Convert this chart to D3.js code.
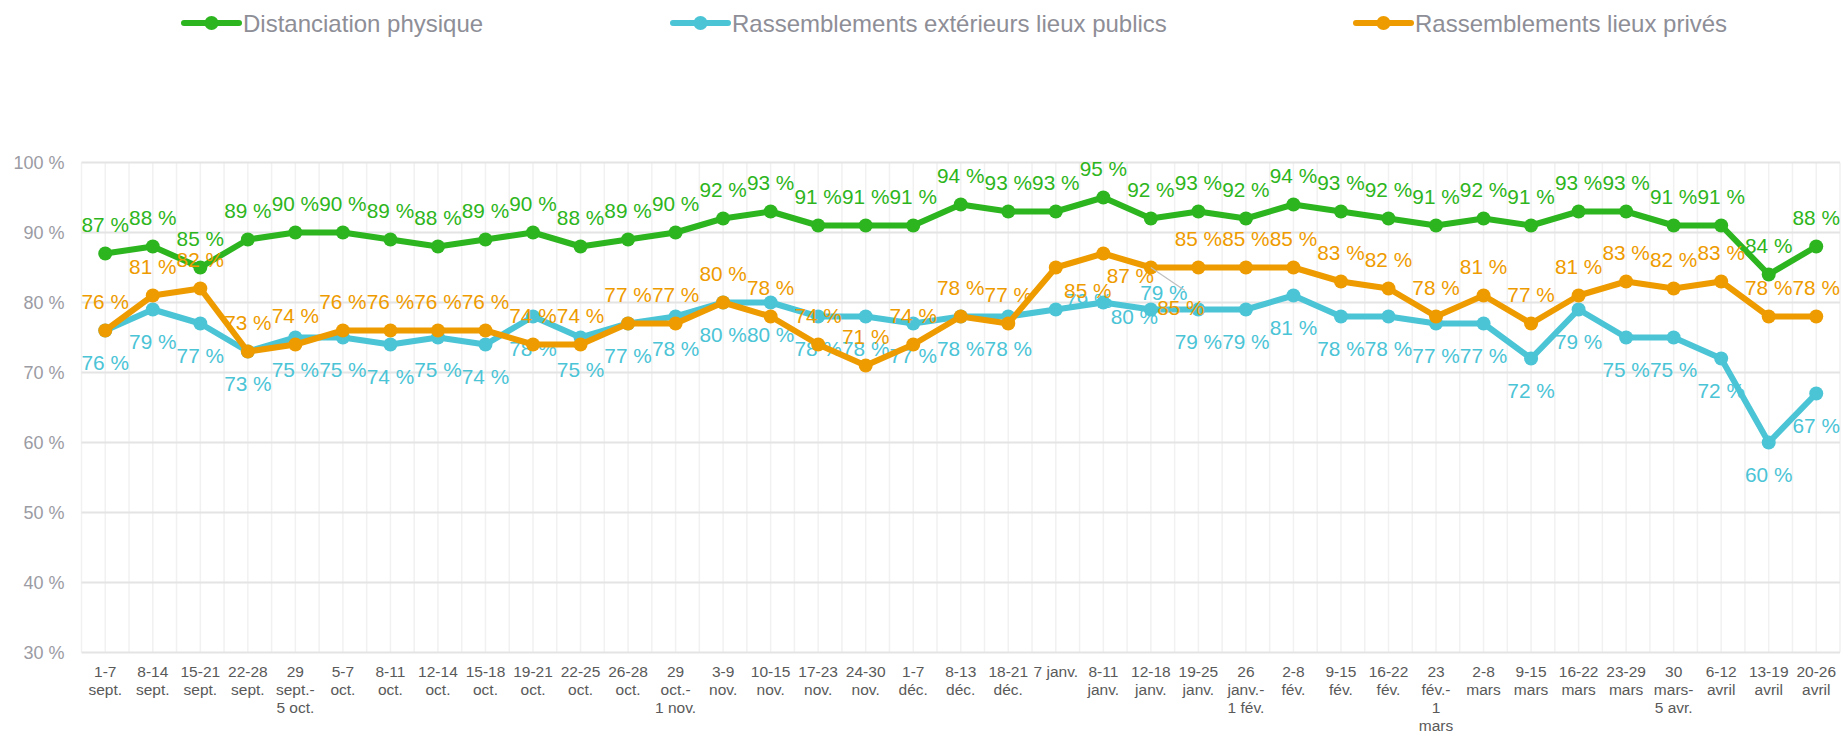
<!DOCTYPE html>
<html>
<head>
<meta charset="utf-8">
<script src="https://cdn.jsdelivr.net/npm/d3@7"></script>
<style>
  body { margin: 0; background: #fff; }
  svg { display: block; font-family: "Liberation Sans", Arial, sans-serif; }
</style>
</head>
<body>
<svg id="chart" width="1844" height="732"></svg>
<script>
// weekly periods (line breaks as they wrap under the axis)
const periods = [
    '1-7\nsept.', '8-14\nsept.', '15-21\nsept.', '22-28\nsept.', '29\nsept.-\n5 oct.',
    '5-7\noct.', '8-11\noct.', '12-14\noct.', '15-18\noct.', '19-21\noct.',
    '22-25\noct.', '26-28\noct.', '29\noct.-\n1 nov.', '3-9\nnov.', '10-15\nnov.',
    '17-23\nnov.', '24-30\nnov.', '1-7\ndéc.', '8-13\ndéc.', '18-21\ndéc.',
    '7 janv.', '8-11\njanv.', '12-18\njanv.', '19-25\njanv.', '26\njanv.-\n1 fév.',
    '2-8\nfév.', '9-15\nfév.', '16-22\nfév.', '23\nfév.-\n1\nmars', '2-8\nmars',
    '9-15\nmars', '16-22\nmars', '23-29\nmars', '30\nmars-\n5 avr.', '6-12\navril',
    '13-19\navril', '20-26\navril'
];

const distanciation = [87, 88, 85, 89, 90, 90, 89, 88, 89, 90, 88, 89, 90, 92, 93, 91, 91, 91, 94, 93,
    93, 95, 92, 93, 92, 94, 93, 92, 91, 92, 91, 93, 93, 91, 91, 84, 88];
const exterieurs = [76, 79, 77, 73, 75, 75, 74, 75, 74, 78, 75, 77, 78, 80, 80, 78, 78, 77, 78, 78,
    79, 80, 79, 79, 79, 81, 78, 78, 77, 77, 72, 79, 75, 75, 72, 60, 67];
const prives = [76, 81, 82, 73, 74, 76, 76, 76, 76, 74, 74, 77, 77, 80, 78, 74, 71, 74, 78, 77,
    85, 87, 85, 85, 85, 85, 83, 82, 78, 81, 77, 81, 83, 82, 83, 78, 78];

const yTicks = [30, 40, 50, 60, 70, 80, 90, 100];

const series = [
    { name: 'Distanciation physique', values: distanciation, color: '#2db520', labelPos: 'above', legendX: 184 },
    { name: 'Rassemblements extérieurs lieux publics', values: exterieurs, color: '#4bc4d6', labelPos: 'below', legendX: 673 },
    { name: 'Rassemblements lieux privés', values: prives, color: '#ee9b00', labelPos: 'above', legendX: 1356 }
];

// labels that were dragged by hand in the original (offsets of the baseline from the point)
const labelMoves = [
    { s: 1, i: 20, dx: 33, dy: -2 },
    { s: 1, i: 21, dx: 31, dy: 21 },
    { s: 1, i: 22, dx: 13, dy: -10 },
    { s: 2, i: 20, dx: 32, dy: 30 },
    { s: 2, i: 21, dx: 27, dy: 29 },
    { s: 2, i: 22, dx: 30, dy: 47, leader: true }
];

const svg = d3.select('#chart');
const plotLeft = 81.5, plotRight = 1840, plotTop = 162.5, plotBottom = 652.5;

const x = d3.scaleBand().domain(d3.range(periods.length)).range([plotLeft, plotRight]).padding(0);
const cx = i => x(i) + x.bandwidth() / 2;
const y = d3.scaleLinear().domain([30, 100]).range([plotBottom, plotTop]);

// vertical grid: band edges and centres
const vGrid = [];
for (let i = 0; i <= periods.length; i++) {
    vGrid.push(plotLeft + i * x.bandwidth());
    if (i < periods.length) vGrid.push(cx(i));
}
svg.append('g')
    .selectAll('line')
    .data(vGrid)
    .join('line')
    .attr('x1', d => d).attr('x2', d => d)
    .attr('y1', plotTop).attr('y2', plotBottom)
    .attr('stroke', '#f1f1f1')
    .attr('stroke-width', 1.5);

svg.append('g')
    .selectAll('line')
    .data(yTicks)
    .join('line')
    .attr('x1', plotLeft).attr('x2', plotRight)
    .attr('y1', d => y(d)).attr('y2', d => y(d))
    .attr('stroke', '#e4e4e4')
    .attr('stroke-width', 2);

// y axis
const yAxis = svg.append('g')
    .attr('transform', `translate(${plotLeft},0)`)
    .call(d3.axisLeft(y).tickValues(yTicks).tickSize(0).tickPadding(17).tickFormat(d => d + ' %'));
yAxis.select('.domain').remove();
yAxis.selectAll('text')
    .attr('fill', '#9b9ba3')
    .style('font-size', '18px')
    .style('font-family', '"Liberation Sans", Arial, sans-serif');

// x axis
const xAxis = svg.append('g')
    .attr('transform', `translate(0,${plotBottom})`)
    .call(d3.axisBottom(x).tickSize(0).tickFormat(''));
xAxis.select('.domain').remove();
xAxis.selectAll('.tick text').remove();
xAxis.selectAll('.tick')
    .append('text')
    .attr('fill', '#595959')
    .attr('text-anchor', 'middle')
    .style('font-size', '15.5px')
    .style('font-family', '"Liberation Sans", Arial, sans-serif')
    .each(function (d) {
        const lines = periods[d].split('\n');
        d3.select(this)
            .selectAll('tspan')
            .data(lines)
            .join('tspan')
            .attr('x', 0)
            .attr('y', (l, k) => 24 + k * 18.1)
            .text(l => l);
    });

const line = d3.line().x((v, i) => cx(i)).y(v => y(v));

series.forEach(function (s, si) {
    const g = svg.append('g');
    g.append('path')
        .attr('d', line(s.values))
        .attr('fill', 'none')
        .attr('stroke', s.color)
        .attr('stroke-width', 6)
        .attr('stroke-linejoin', 'round');

    g.selectAll('circle')
        .data(s.values)
        .join('circle')
        .attr('cx', (v, i) => cx(i))
        .attr('cy', v => y(v))
        .attr('r', 7)
        .attr('fill', s.color);

    const labels = s.values.map(function (v, i) {
        const moved = labelMoves.find(m => m.s === si && m.i === i);
        const px = cx(i), py = y(v);
        if (moved) return { v, px, py, lx: px + moved.dx, ly: py + moved.dy, leader: moved.leader };
        return { v, px, py, lx: px, ly: s.labelPos === 'above' ? py - 22 : py + 39.5 };
    });

    g.selectAll('line.leader')
        .data(labels.filter(d => d.leader))
        .join('line')
        .attr('class', 'leader')
        .attr('x1', d => d.px).attr('y1', d => d.py)
        .attr('x2', d => d.px + 34).attr('y2', d => d.py + 23)
        .attr('stroke', '#bfbfbf')
        .attr('stroke-width', 1.2);

    g.selectAll('text')
        .data(labels)
        .join('text')
        .attr('x', d => d.lx)
        .attr('y', d => d.ly)
        .attr('text-anchor', 'middle')
        .attr('fill', s.color)
        .style('font-size', '20.8px')
        .text(d => d.v + ' %');
});

// legend
const legend = svg.append('g')
    .selectAll('g')
    .data(series)
    .join('g')
    .attr('transform', d => `translate(${d.legendX},23)`);
legend.append('line')
    .attr('x1', 0).attr('x2', 55)
    .attr('stroke', d => d.color)
    .attr('stroke-width', 6)
    .attr('stroke-linecap', 'round');
legend.append('circle')
    .attr('cx', 27.5)
    .attr('r', 7)
    .attr('fill', d => d.color);
legend.append('text')
    .attr('x', 59)
    .attr('y', 9)
    .attr('fill', '#8e8e97')
    .style('font-size', '24px')
    .text(d => d.name);
</script>
</body>
</html>
